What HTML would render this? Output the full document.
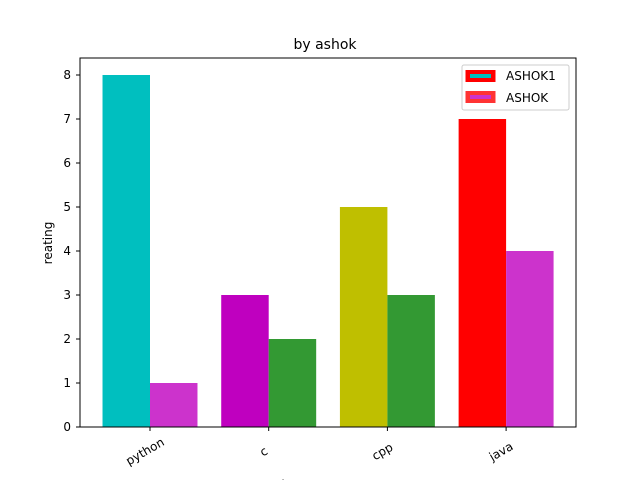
<!DOCTYPE html>
<html><head><meta charset="utf-8"><style>
body{margin:0;background:#fff;font-family:"Liberation Sans","DejaVu Sans",sans-serif}
</style></head><body>
<svg width="640" height="480" viewBox="0 0 640 480" font-family="DejaVu Sans, Liberation Sans, sans-serif">
<rect width="640" height="480" fill="#fff"/>
<g id="bars"></g>
<rect x="80" y="58" width="496" height="369" fill="none" stroke="#000" stroke-width="1"/>
<g id="axes"></g>
<text x="325" y="49" font-size="14" text-anchor="middle">by ashok</text>
<text x="0" y="0" font-size="12" text-anchor="middle" transform="translate(52,243) rotate(-90)">reating</text>
<text x="283" y="489" font-size="12" text-anchor="middle">l</text>
<g>
<rect x="462" y="65" width="107" height="45" rx="2" fill="#fff" stroke="#ccc"/>
<g>
<rect x="465.5" y="70" width="30" height="12" fill="#ff0000"/>
<rect x="470" y="74" width="21" height="4" fill="#00bfbf"/>
<text x="506" y="80" font-size="12">ASHOK1</text>
</g>
<g>
<rect x="465.5" y="91" width="30" height="12" fill="#ff3333"/>
<rect x="470" y="95" width="21" height="4" fill="#cc33cc"/>
<text x="506" y="102" font-size="12">ASHOK</text>
</g>
</g>
</svg>
<script>
const categories=["python","c","cpp","java"];
const series1=[8,3,5,7];
const series2=[1,2,3,4];
const colors1=["#00bfbf","#bf00bf","#bfbf00","#ff0000"];
const colors2=["#cc33cc","#339933","#339933","#cc33cc"];
const yTicks=[0,1,2,3,4,5,6,7,8];
const NS="http://www.w3.org/2000/svg";
const x0=150,dx=118.7,bw=0.4*dx;
const xs=i=>x0+i*dx;
const ys=v=>427-v*44;
const bars=document.getElementById('bars'),axes=document.getElementById('axes');
function mk(t,a,p){const e=document.createElementNS(NS,t);for(const k in a)e.setAttribute(k,a[k]);p.appendChild(e);return e;}
categories.forEach((c,i)=>{
 const r1=mk('rect',{x:xs(i)-bw,y:ys(series1[i]),width:bw,height:ys(0)-ys(series1[i]),fill:colors1[i]},bars);
 
 
 const r2=mk('rect',{x:xs(i),y:ys(series2[i]),width:bw,height:ys(0)-ys(series2[i]),fill:colors2[i]},bars);
 
 
 mk('line',{x1:xs(i),x2:xs(i),y1:427,y2:431,stroke:'#000'},axes);
 const t=mk('text',{x:0,y:0,'font-size':12,'text-anchor':'middle',transform:`translate(${xs(i)-3},${455}) rotate(-30)`},axes);
 t.textContent=c;
 
 
});
yTicks.forEach(v=>{
 mk('line',{x1:76,x2:80,y1:ys(v),y2:ys(v),stroke:'#000'},axes);
 const t=mk('text',{x:71,y:ys(v)+4,'font-size':12,'text-anchor':'end'},axes);
 t.textContent=v;
 
 
});
</script>
</body></html>
